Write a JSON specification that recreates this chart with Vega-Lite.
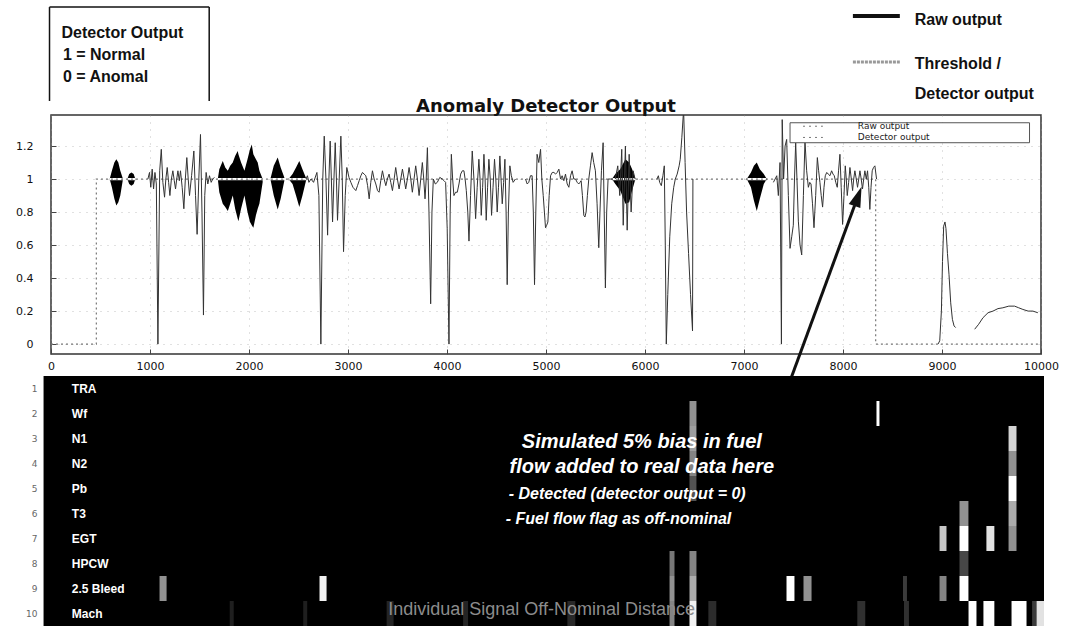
{
  "$schema": "https://vega.github.io/schema/vega-lite/v6.json",
  "background": "white",
  "padding": {"left": 14, "top": 5, "right": 2, "bottom": 0},
  "config": {"view": {"stroke": null}, "font": "DejaVu Sans"},
  "bounds": "flush",
  "spacing": 22,
  "datasets": {
    "raw": [
      {"seg":1,"t":979,"v":1.0},{"seg":1,"t":995,"v":1.04},{"seg":1,"t":1008,"v":0.95},{"seg":1,"t":1022,"v":1.06},{"seg":1,"t":1036,"v":0.94},{"seg":1,"t":1050,"v":1.04},{"seg":1,"t":1064,"v":0.97},{"seg":1,"t":1080,"v":0.0},{"seg":1,"t":1098,"v":1.05},{"seg":1,"t":1114,"v":1.18},{"seg":1,"t":1130,"v":0.98},{"seg":1,"t":1147,"v":0.89},{"seg":1,"t":1160,"v":1.0},{"seg":1,"t":1174,"v":1.07},{"seg":1,"t":1188,"v":0.98},{"seg":1,"t":1201,"v":0.9},{"seg":1,"t":1216,"v":1.0},{"seg":1,"t":1231,"v":1.05},{"seg":1,"t":1245,"v":0.99},{"seg":1,"t":1258,"v":0.94},{"seg":1,"t":1270,"v":1.0},{"seg":1,"t":1282,"v":1.05},{"seg":1,"t":1296,"v":0.99},{"seg":1,"t":1308,"v":1.05},{"seg":1,"t":1325,"v":0.95},{"seg":1,"t":1342,"v":0.82},{"seg":1,"t":1357,"v":1.0},{"seg":1,"t":1372,"v":1.13},{"seg":1,"t":1386,"v":1.0},{"seg":1,"t":1399,"v":0.9},{"seg":1,"t":1420,"v":1.02},{"seg":1,"t":1443,"v":1.17},{"seg":1,"t":1460,"v":0.9},{"seg":1,"t":1476,"v":0.665},{"seg":1,"t":1493,"v":1.0},{"seg":1,"t":1510,"v":1.27},{"seg":1,"t":1525,"v":0.8},{"seg":1,"t":1540,"v":0.176},{"seg":1,"t":1553,"v":0.9},{"seg":1,"t":1567,"v":1.04},{"seg":1,"t":1584,"v":0.97},{"seg":1,"t":1601,"v":1.02},{"seg":1,"t":1618,"v":0.98},{"seg":1,"t":1634,"v":1.0},{"seg":1,"t":1650,"v":1.01},
      {"seg":2,"t":2575,"v":1.0},{"seg":2,"t":2590,"v":1.02},{"seg":2,"t":2605,"v":0.98},{"seg":2,"t":2626,"v":1.0},{"seg":2,"t":2652,"v":0.98},{"seg":2,"t":2686,"v":1.04},{"seg":2,"t":2706,"v":0.9},{"seg":2,"t":2726,"v":0.0},{"seg":2,"t":2745,"v":1.0},{"seg":2,"t":2760,"v":1.26},{"seg":2,"t":2777,"v":1.0},{"seg":2,"t":2794,"v":0.66},{"seg":2,"t":2807,"v":1.0},{"seg":2,"t":2820,"v":1.23},{"seg":2,"t":2832,"v":1.0},{"seg":2,"t":2844,"v":0.74},{"seg":2,"t":2858,"v":1.0},{"seg":2,"t":2871,"v":1.22},{"seg":2,"t":2883,"v":1.0},{"seg":2,"t":2894,"v":0.75},{"seg":2,"t":2911,"v":1.0},{"seg":2,"t":2928,"v":1.26},{"seg":2,"t":2942,"v":1.0},{"seg":2,"t":2955,"v":0.56},{"seg":2,"t":2972,"v":0.9},{"seg":2,"t":2988,"v":1.07},{"seg":2,"t":3010,"v":1.01},{"seg":2,"t":3029,"v":0.98},{"seg":2,"t":3050,"v":0.95},{"seg":2,"t":3079,"v":0.93},{"seg":2,"t":3096,"v":0.96},{"seg":2,"t":3113,"v":0.99},{"seg":2,"t":3130,"v":1.02},{"seg":2,"t":3146,"v":1.04},{"seg":2,"t":3163,"v":1.03},{"seg":2,"t":3180,"v":1.02},{"seg":2,"t":3198,"v":0.96},{"seg":2,"t":3214,"v":0.88},{"seg":2,"t":3230,"v":0.98},{"seg":2,"t":3247,"v":1.05},{"seg":2,"t":3264,"v":1.0},{"seg":2,"t":3281,"v":0.97},{"seg":2,"t":3298,"v":0.93},{"seg":2,"t":3314,"v":0.92},{"seg":2,"t":3331,"v":0.99},{"seg":2,"t":3348,"v":1.05},{"seg":2,"t":3365,"v":1.0},{"seg":2,"t":3382,"v":0.96},{"seg":2,"t":3398,"v":1.0},{"seg":2,"t":3415,"v":1.03},{"seg":2,"t":3432,"v":0.98},{"seg":2,"t":3449,"v":0.93},{"seg":2,"t":3466,"v":1.0},{"seg":2,"t":3482,"v":1.07},{"seg":2,"t":3499,"v":1.0},{"seg":2,"t":3516,"v":0.94},{"seg":2,"t":3533,"v":1.0},{"seg":2,"t":3550,"v":1.06},{"seg":2,"t":3567,"v":1.0},{"seg":2,"t":3583,"v":0.94},{"seg":2,"t":3600,"v":1.0},{"seg":2,"t":3617,"v":1.07},{"seg":2,"t":3634,"v":1.0},{"seg":2,"t":3650,"v":0.92},{"seg":2,"t":3667,"v":1.0},{"seg":2,"t":3684,"v":1.08},{"seg":2,"t":3701,"v":1.0},{"seg":2,"t":3718,"v":0.9},{"seg":2,"t":3735,"v":1.0},{"seg":2,"t":3751,"v":1.1},{"seg":2,"t":3765,"v":1.0},{"seg":2,"t":3778,"v":0.88},{"seg":2,"t":3790,"v":1.0},{"seg":2,"t":3802,"v":1.19},{"seg":2,"t":3818,"v":0.8},{"seg":2,"t":3835,"v":0.244},{"seg":2,"t":3848,"v":0.8},{"seg":2,"t":3862,"v":1.0},{"seg":2,"t":3882,"v":0.97},{"seg":2,"t":3902,"v":0.98},{"seg":2,"t":3927,"v":1.01},{"seg":2,"t":3953,"v":1.0},{"seg":2,"t":3970,"v":0.99},{"seg":2,"t":3986,"v":0.98},{"seg":2,"t":4002,"v":0.7},{"seg":2,"t":4020,"v":0.0},{"seg":2,"t":4032,"v":0.8},{"seg":2,"t":4044,"v":1.15},{"seg":2,"t":4057,"v":1.0},{"seg":2,"t":4070,"v":0.9},{"seg":2,"t":4087,"v":0.92},{"seg":2,"t":4104,"v":0.92},{"seg":2,"t":4121,"v":0.97},{"seg":2,"t":4138,"v":1.03},{"seg":2,"t":4155,"v":1.05},{"seg":2,"t":4171,"v":1.05},{"seg":2,"t":4183,"v":1.0},{"seg":2,"t":4195,"v":0.93},{"seg":2,"t":4210,"v":0.8},{"seg":2,"t":4222,"v":0.624},{"seg":2,"t":4238,"v":0.9},{"seg":2,"t":4255,"v":1.17},{"seg":2,"t":4272,"v":1.0},{"seg":2,"t":4289,"v":0.76},{"seg":2,"t":4305,"v":0.95},{"seg":2,"t":4322,"v":1.12},{"seg":2,"t":4334,"v":1.0},{"seg":2,"t":4346,"v":0.78},{"seg":2,"t":4360,"v":0.95},{"seg":2,"t":4373,"v":1.15},{"seg":2,"t":4385,"v":1.0},{"seg":2,"t":4396,"v":0.75},{"seg":2,"t":4410,"v":0.95},{"seg":2,"t":4423,"v":1.12},{"seg":2,"t":4437,"v":1.0},{"seg":2,"t":4450,"v":0.78},{"seg":2,"t":4465,"v":0.95},{"seg":2,"t":4480,"v":1.12},{"seg":2,"t":4493,"v":1.0},{"seg":2,"t":4507,"v":0.8},{"seg":2,"t":4520,"v":0.95},{"seg":2,"t":4534,"v":1.14},{"seg":2,"t":4546,"v":1.0},{"seg":2,"t":4558,"v":0.85},{"seg":2,"t":4572,"v":0.98},{"seg":2,"t":4585,"v":1.12},{"seg":2,"t":4597,"v":0.8},{"seg":2,"t":4608,"v":0.36},{"seg":2,"t":4620,"v":0.8},{"seg":2,"t":4635,"v":1.08},{"seg":2,"t":4650,"v":1.02},{"seg":2,"t":4668,"v":0.98},{"seg":2,"t":4692,"v":1.0},
      {"seg":3,"t":4793,"v":1.0},{"seg":3,"t":4810,"v":0.97},{"seg":3,"t":4826,"v":0.98},{"seg":3,"t":4843,"v":1.02},{"seg":3,"t":4860,"v":1.02},{"seg":3,"t":4872,"v":0.8},{"seg":3,"t":4884,"v":0.36},{"seg":3,"t":4897,"v":0.8},{"seg":3,"t":4910,"v":1.15},{"seg":3,"t":4927,"v":1.1},{"seg":3,"t":4945,"v":1.18},{"seg":3,"t":4958,"v":1.0},{"seg":3,"t":4972,"v":0.9},{"seg":3,"t":4984,"v":0.8},{"seg":3,"t":4995,"v":0.705},{"seg":3,"t":5007,"v":0.72},{"seg":3,"t":5019,"v":0.74},{"seg":3,"t":5032,"v":0.9},{"seg":3,"t":5046,"v":1.02},{"seg":3,"t":5063,"v":1.04},{"seg":3,"t":5080,"v":1.04},{"seg":3,"t":5097,"v":1.03},{"seg":3,"t":5113,"v":1.04},{"seg":3,"t":5130,"v":1.06},{"seg":3,"t":5147,"v":1.0},{"seg":3,"t":5163,"v":1.02},{"seg":3,"t":5180,"v":0.99},{"seg":3,"t":5197,"v":1.03},{"seg":3,"t":5214,"v":0.97},{"seg":3,"t":5231,"v":0.95},{"seg":3,"t":5248,"v":1.02},{"seg":3,"t":5264,"v":1.05},{"seg":3,"t":5281,"v":1.0},{"seg":3,"t":5298,"v":1.0},{"seg":3,"t":5315,"v":0.98},{"seg":3,"t":5331,"v":0.97},{"seg":3,"t":5343,"v":0.98},{"seg":3,"t":5355,"v":0.99},{"seg":3,"t":5368,"v":0.9},{"seg":3,"t":5382,"v":0.78},{"seg":3,"t":5393,"v":0.77},{"seg":3,"t":5405,"v":0.8},{"seg":3,"t":5418,"v":0.9},{"seg":3,"t":5432,"v":1.0},{"seg":3,"t":5449,"v":1.08},{"seg":3,"t":5466,"v":1.16},{"seg":3,"t":5482,"v":1.1},{"seg":3,"t":5499,"v":1.05},{"seg":3,"t":5516,"v":0.85},{"seg":3,"t":5533,"v":0.584},{"seg":3,"t":5545,"v":0.8},{"seg":3,"t":5560,"v":1.05},{"seg":3,"t":5577,"v":1.22},{"seg":3,"t":5588,"v":0.8},{"seg":3,"t":5600,"v":0.34},{"seg":3,"t":5613,"v":0.8},{"seg":3,"t":5627,"v":1.0},{"seg":3,"t":5651,"v":1.0},{"seg":3,"t":5670,"v":1.0},
      {"seg":4,"t":5700,"v":1.0},{"seg":4,"t":5725,"v":1.08},{"seg":4,"t":5745,"v":0.9},{"seg":4,"t":5765,"v":1.18},{"seg":4,"t":5780,"v":0.72},{"seg":4,"t":5802,"v":1.2},{"seg":4,"t":5820,"v":0.69},{"seg":4,"t":5840,"v":1.15},{"seg":4,"t":5860,"v":0.8},{"seg":4,"t":5880,"v":1.05},{"seg":4,"t":5900,"v":1.0},
      {"seg":5,"t":6121,"v":1.0},{"seg":5,"t":6135,"v":1.02},{"seg":5,"t":6148,"v":0.98},{"seg":5,"t":6165,"v":0.96},{"seg":5,"t":6181,"v":1.02},{"seg":5,"t":6195,"v":1.08},{"seg":5,"t":6205,"v":0.6},{"seg":5,"t":6215,"v":0.0},{"seg":5,"t":6230,"v":0.3},{"seg":5,"t":6250,"v":0.65},{"seg":5,"t":6270,"v":0.85},{"seg":5,"t":6290,"v":0.95},{"seg":5,"t":6306,"v":1.0},{"seg":5,"t":6325,"v":1.03},{"seg":5,"t":6345,"v":1.08},{"seg":5,"t":6356,"v":1.12},{"seg":5,"t":6372,"v":1.25},{"seg":5,"t":6390,"v":1.42},{"seg":5,"t":6405,"v":1.1},{"seg":5,"t":6420,"v":0.8},{"seg":5,"t":6440,"v":0.55},{"seg":5,"t":6460,"v":0.3},{"seg":5,"t":6480,"v":0.08},{"seg":5,"t":6484,"v":1.0},
      {"seg":6,"t":7297,"v":0.98},{"seg":6,"t":7314,"v":1.0},{"seg":6,"t":7331,"v":1.02},{"seg":6,"t":7347,"v":0.9},{"seg":6,"t":7364,"v":1.1},{"seg":6,"t":7378,"v":0.0},{"seg":6,"t":7386,"v":1.36},{"seg":6,"t":7400,"v":1.0},{"seg":6,"t":7415,"v":1.2},{"seg":6,"t":7431,"v":1.24},{"seg":6,"t":7448,"v":0.9},{"seg":6,"t":7465,"v":0.58},{"seg":6,"t":7482,"v":0.65},{"seg":6,"t":7498,"v":0.72},{"seg":6,"t":7510,"v":1.0},{"seg":6,"t":7522,"v":1.22},{"seg":6,"t":7535,"v":1.0},{"seg":6,"t":7549,"v":0.745},{"seg":6,"t":7566,"v":0.6},{"seg":6,"t":7583,"v":0.54},{"seg":6,"t":7600,"v":0.9},{"seg":6,"t":7616,"v":1.23},{"seg":6,"t":7633,"v":1.05},{"seg":6,"t":7650,"v":0.95},{"seg":6,"t":7664,"v":0.98},{"seg":6,"t":7677,"v":0.97},{"seg":6,"t":7692,"v":0.85},{"seg":6,"t":7707,"v":0.705},{"seg":6,"t":7724,"v":0.9},{"seg":6,"t":7741,"v":1.13},{"seg":6,"t":7754,"v":1.05},{"seg":6,"t":7767,"v":0.98},{"seg":6,"t":7780,"v":0.9},{"seg":6,"t":7794,"v":0.83},{"seg":6,"t":7808,"v":0.95},{"seg":6,"t":7821,"v":1.02},{"seg":6,"t":7836,"v":1.04},{"seg":6,"t":7851,"v":1.03},{"seg":6,"t":7868,"v":1.02},{"seg":6,"t":7885,"v":1.05},{"seg":6,"t":7899,"v":1.03},{"seg":6,"t":7912,"v":1.02},{"seg":6,"t":7927,"v":0.98},{"seg":6,"t":7942,"v":0.95},{"seg":6,"t":7955,"v":1.05},{"seg":6,"t":7969,"v":1.15},{"seg":6,"t":7982,"v":0.95},{"seg":6,"t":7996,"v":0.725},{"seg":6,"t":8010,"v":0.9},{"seg":6,"t":8023,"v":1.08},{"seg":6,"t":8033,"v":1.0},{"seg":6,"t":8043,"v":0.9},{"seg":6,"t":8057,"v":0.98},{"seg":6,"t":8070,"v":1.07},{"seg":6,"t":8084,"v":1.0},{"seg":6,"t":8097,"v":0.93},{"seg":6,"t":8108,"v":1.0},{"seg":6,"t":8120,"v":1.05},{"seg":6,"t":8134,"v":1.0},{"seg":6,"t":8147,"v":0.95},{"seg":6,"t":8159,"v":1.0},{"seg":6,"t":8171,"v":1.05},{"seg":6,"t":8184,"v":1.0},{"seg":6,"t":8197,"v":0.94},{"seg":6,"t":8209,"v":1.0},{"seg":6,"t":8221,"v":1.05},{"seg":6,"t":8235,"v":1.0},{"seg":6,"t":8248,"v":1.05},{"seg":6,"t":8260,"v":0.95},{"seg":6,"t":8271,"v":0.816},{"seg":6,"t":8283,"v":0.95},{"seg":6,"t":8295,"v":1.05},{"seg":6,"t":8308,"v":1.07},{"seg":6,"t":8322,"v":1.08},{"seg":6,"t":8339,"v":1.0},
      {"seg":7,"t":8960,"v":0.0},{"seg":7,"t":8977,"v":0.02},{"seg":7,"t":8994,"v":0.2},{"seg":7,"t":9005,"v":0.5},{"seg":7,"t":9017,"v":0.715},{"seg":7,"t":9030,"v":0.74},{"seg":7,"t":9040,"v":0.7},{"seg":7,"t":9055,"v":0.55},{"seg":7,"t":9071,"v":0.42},{"seg":7,"t":9088,"v":0.25},{"seg":7,"t":9105,"v":0.15},{"seg":7,"t":9122,"v":0.11},{"seg":7,"t":9138,"v":0.1},
      {"seg":8,"t":9330,"v":0.09},{"seg":8,"t":9370,"v":0.12},{"seg":8,"t":9414,"v":0.16},{"seg":8,"t":9465,"v":0.19},{"seg":8,"t":9515,"v":0.2},{"seg":8,"t":9565,"v":0.215},{"seg":8,"t":9615,"v":0.22},{"seg":8,"t":9675,"v":0.23},{"seg":8,"t":9733,"v":0.23},{"seg":8,"t":9775,"v":0.22},{"seg":8,"t":9817,"v":0.21},{"seg":8,"t":9870,"v":0.2},{"seg":8,"t":9918,"v":0.2},{"seg":8,"t":9968,"v":0.19}
    ],
    "burstHi": [
      {"b":1,"t":593,"v":1.0},{"b":1,"t":615,"v":1.05},{"b":1,"t":640,"v":1.1},{"b":1,"t":660,"v":1.12},{"b":1,"t":680,"v":1.1},{"b":1,"t":700,"v":1.05},{"b":1,"t":727,"v":1.0},
      {"b":2,"t":771,"v":1.0},{"b":2,"t":790,"v":1.03},{"b":2,"t":812,"v":1.04},{"b":2,"t":835,"v":1.03},{"b":2,"t":852,"v":1.0},
      {"b":3,"t":1685,"v":1.0},{"b":3,"t":1700,"v":1.06},{"b":3,"t":1735,"v":1.11},{"b":3,"t":1760,"v":1.07},{"b":3,"t":1786,"v":1.05},{"b":3,"t":1810,"v":1.08},{"b":3,"t":1836,"v":1.1},{"b":3,"t":1860,"v":1.14},{"b":3,"t":1886,"v":1.17},{"b":3,"t":1893,"v":1.15},{"b":3,"t":1920,"v":1.1},{"b":3,"t":1954,"v":1.05},{"b":3,"t":1985,"v":1.12},{"b":3,"t":2010,"v":1.18},{"b":3,"t":2028,"v":1.21},{"b":3,"t":2044,"v":1.15},{"b":3,"t":2070,"v":1.12},{"b":3,"t":2088,"v":1.1},{"b":3,"t":2105,"v":1.05},{"b":3,"t":2138,"v":1.0},
      {"b":4,"t":2216,"v":1.0},{"b":4,"t":2250,"v":1.08},{"b":4,"t":2290,"v":1.13},{"b":4,"t":2320,"v":1.07},{"b":4,"t":2357,"v":1.01},
      {"b":5,"t":2400,"v":1.0},{"b":5,"t":2440,"v":1.03},{"b":5,"t":2475,"v":1.07},{"b":5,"t":2508,"v":1.11},{"b":5,"t":2540,"v":1.06},{"b":5,"t":2580,"v":1.0},
      {"b":6,"t":5667,"v":1.0},{"b":6,"t":5700,"v":1.03},{"b":6,"t":5750,"v":1.06},{"b":6,"t":5802,"v":1.12},{"b":6,"t":5840,"v":1.1},{"b":6,"t":5870,"v":1.06},{"b":6,"t":5903,"v":1.0},
      {"b":7,"t":7028,"v":1.0},{"b":7,"t":7070,"v":1.04},{"b":7,"t":7100,"v":1.08},{"b":7,"t":7129,"v":1.1},{"b":7,"t":7160,"v":1.06},{"b":7,"t":7200,"v":1.03},{"b":7,"t":7230,"v":1.0}
    ],
    "burstLo": [
      {"b":1,"t":593,"v":1.0},{"b":1,"t":615,"v":0.95},{"b":1,"t":640,"v":0.88},{"b":1,"t":660,"v":0.84},{"b":1,"t":680,"v":0.86},{"b":1,"t":700,"v":0.9},{"b":1,"t":727,"v":1.0},
      {"b":2,"t":771,"v":1.0},{"b":2,"t":790,"v":0.97},{"b":2,"t":812,"v":0.96},{"b":2,"t":835,"v":0.97},{"b":2,"t":852,"v":1.0},
      {"b":3,"t":1685,"v":1.0},{"b":3,"t":1700,"v":0.92},{"b":3,"t":1735,"v":0.85},{"b":3,"t":1760,"v":0.83},{"b":3,"t":1786,"v":0.806},{"b":3,"t":1810,"v":0.85},{"b":3,"t":1836,"v":0.9},{"b":3,"t":1860,"v":0.82},{"b":3,"t":1886,"v":0.76},{"b":3,"t":1893,"v":0.745},{"b":3,"t":1920,"v":0.82},{"b":3,"t":1954,"v":0.9},{"b":3,"t":1985,"v":0.8},{"b":3,"t":2010,"v":0.74},{"b":3,"t":2028,"v":0.72},{"b":3,"t":2044,"v":0.705},{"b":3,"t":2070,"v":0.78},{"b":3,"t":2088,"v":0.82},{"b":3,"t":2105,"v":0.85},{"b":3,"t":2138,"v":0.98},
      {"b":4,"t":2216,"v":1.0},{"b":4,"t":2250,"v":0.9},{"b":4,"t":2290,"v":0.816},{"b":4,"t":2320,"v":0.88},{"b":4,"t":2357,"v":0.99},
      {"b":5,"t":2400,"v":1.0},{"b":5,"t":2440,"v":0.97},{"b":5,"t":2475,"v":0.9},{"b":5,"t":2508,"v":0.83},{"b":5,"t":2540,"v":0.9},{"b":5,"t":2580,"v":1.0},
      {"b":6,"t":5667,"v":1.0},{"b":6,"t":5700,"v":0.97},{"b":6,"t":5750,"v":0.93},{"b":6,"t":5802,"v":0.85},{"b":6,"t":5840,"v":0.86},{"b":6,"t":5870,"v":0.93},{"b":6,"t":5903,"v":1.0},
      {"b":7,"t":7028,"v":1.0},{"b":7,"t":7070,"v":0.95},{"b":7,"t":7100,"v":0.87},{"b":7,"t":7129,"v":0.806},{"b":7,"t":7160,"v":0.88},{"b":7,"t":7200,"v":0.97},{"b":7,"t":7230,"v":1.0}
    ],
    "det": [
      {"i":1,"t":0,"v":0},{"i":2,"t":458,"v":0},{"i":3,"t":458,"v":1},{"i":4,"t":8330,"v":1},{"i":5,"t":8330,"v":0},{"i":6,"t":10000,"v":0}
    ],
    "titleText": [{"t":5000,"v":1.436,"label":"Anomaly Detector Output"}],
    "legendBox": [{"t":7465,"t2":9884,"v":1.341,"v2":1.22}],
    "legendSamples": [{"t":7596,"t2":7797,"v":1.32,"v2":1.32},{"t":7596,"t2":7797,"v":1.252,"v2":1.252}],
    "legendTexts": [{"t":8150,"v":1.32,"label":"Raw output"},{"t":8150,"v":1.252,"label":"Detector output"}],
    "boxRules": [{"t":-15,"v":2.042,"t2":-15,"v2":1.473},{"t":-15,"v":2.042,"t2":1598,"v2":2.042},{"t":1598,"v":2.042,"t2":1598,"v2":1.473}],
    "noteTexts": [
      {"t":106,"v":1.885,"label":"Detector Output"},
      {"t":120,"v":1.752,"label":"1 = Normal"},
      {"t":120,"v":1.618,"label":"0 = Anomal"},
      {"t":8725,"v":1.964,"label":"Raw output"},
      {"t":8725,"v":1.697,"label":"Threshold /"},
      {"t":8725,"v":1.515,"label":"Detector output"}
    ],
    "keyRaw": [{"t":8100,"t2":8574,"v":1.988,"v2":1.988}],
    "keyThr": [{"t":8100,"t2":8574,"v":1.709,"v2":1.709}],
    "arrow": [{"t":7465,"v":-0.224,"t2":8117,"v2":0.84}],
    "arrowHead": [{"t":8152,"v":0.895}],
    "hbg": [
      {"t0":-7.5,"t1":1000,"r":1},{"t0":-7.5,"t1":1000,"r":2},{"t0":-7.5,"t1":1000,"r":3},{"t0":-7.5,"t1":1000,"r":4},{"t0":-7.5,"t1":1000,"r":5},
      {"t0":-7.5,"t1":1000,"r":6},{"t0":-7.5,"t1":1000,"r":7},{"t0":-7.5,"t1":1000,"r":8},{"t0":-7.5,"t1":1000,"r":9},{"t0":-7.5,"t1":1000,"r":10}
    ],
    "cells": [
      {"t0":109.3,"t1":116.4,"r":9,"val":0.6},
      {"t0":270.4,"t1":277.5,"r":9,"val":0.95},
      {"t0":622.9,"t1":627.9,"r":8,"val":0.5},{"t0":622.9,"t1":627.9,"r":9,"val":0.6},{"t0":622.9,"t1":627.9,"r":10,"val":0.55},
      {"t0":643,"t1":650,"r":2,"val":0.6},{"t0":643,"t1":650,"r":3,"val":0.65},{"t0":643,"t1":650,"r":4,"val":0.55},{"t0":643,"t1":650,"r":5,"val":0.35},{"t0":643,"t1":650,"r":8,"val":0.55},{"t0":643,"t1":650,"r":9,"val":0.7},{"t0":643,"t1":650,"r":10,"val":0.95},
      {"t0":831.3,"t1":834.3,"r":2,"val":1.0},
      {"t0":740.7,"t1":748.7,"r":9,"val":1.0},
      {"t0":757.8,"t1":765.9,"r":9,"val":0.6},
      {"t0":894.8,"t1":901.8,"r":7,"val":0.8},{"t0":894.8,"t1":901.8,"r":9,"val":0.55},
      {"t0":914.9,"t1":923.9,"r":6,"val":0.6},{"t0":914.9,"t1":923.9,"r":7,"val":1.0},{"t0":914.9,"t1":923.9,"r":8,"val":0.3},{"t0":914.9,"t1":923.9,"r":9,"val":1.0},
      {"t0":942,"t1":950,"r":7,"val":0.9},
      {"t0":964.3,"t1":972.3,"r":3,"val":0.85},{"t0":964.3,"t1":972.3,"r":4,"val":0.6},{"t0":964.3,"t1":972.3,"r":5,"val":1.0},{"t0":964.3,"t1":972.3,"r":6,"val":0.7},{"t0":964.3,"t1":972.3,"r":7,"val":0.6},
      {"t0":924,"t1":932,"r":10,"val":1.0},{"t0":939,"t1":950,"r":10,"val":1.0},{"t0":967.3,"t1":982.4,"r":10,"val":1.0},{"t0":992.4,"t1":1000,"r":10,"val":0.9},
      {"t0":180,"t1":184,"r":10,"val":0.12},{"t0":254,"t1":258,"r":10,"val":0.12},{"t0":338,"t1":345,"r":10,"val":0.14},{"t0":415,"t1":420,"r":10,"val":0.14},{"t0":520,"t1":528,"r":10,"val":0.16},{"t0":662,"t1":670,"r":10,"val":0.18},{"t0":812,"t1":820,"r":10,"val":0.2},{"t0":859,"t1":864,"r":10,"val":0.2},{"t0":858,"t1":862,"r":9,"val":0.25},{"t0":988,"t1":992,"r":10,"val":0.25}
    ],
    "rowLabels": [
      {"t0":21,"r":1,"label":"TRA"},{"t0":21,"r":2,"label":"Wf"},{"t0":21,"r":3,"label":"N1"},{"t0":21,"r":4,"label":"N2"},{"t0":21,"r":5,"label":"Pb"},
      {"t0":21,"r":6,"label":"T3"},{"t0":21,"r":7,"label":"EGT"},{"t0":21,"r":8,"label":"HPCW"},{"t0":21,"r":9,"label":"2.5 Bleed"},{"t0":21,"r":10,"label":"Mach"}
    ],
    "bigNotes": [
      {"t0":595,"r":3,"label":"Simulated 5% bias in fuel"},
      {"t0":595,"r":4,"label":"flow added to real data here"}
    ],
    "midNotes": [
      {"t0":461,"r":5,"label":"- Detected (detector output = 0)"},
      {"t0":458,"r":6,"label":"- Fuel flow flag as off-nominal"}
    ],
    "greyNotes": [
      {"t0":494,"r":10,"label":"Individual Signal Off-Nominal Distance"}
    ]
  },
  "vconcat": [
    {
      "width": 990,
      "height": 239,
      "view": {"stroke": "#333", "strokeWidth": 1.5, "fill": "white"},
      "encoding": {
        "x": {"field": "t", "type": "quantitative", "title": null,
          "scale": {"domain": [0, 10000], "nice": false, "zero": false},
          "axis": {"title": null, "values": [0,1000,2000,3000,4000,5000,6000,7000,8000,9000,10000], "format": "d", "labelFlush": false, "tickSize": -5, "labelPadding": 11, "labelFontSize": 11, "labelColor": "#111", "tickColor": "#444", "domain": false, "grid": true, "gridDash": [1,6], "gridColor": "#999", "gridOpacity": 0.6}},
        "y": {"field": "v", "type": "quantitative", "title": null,
          "scale": {"domain": [-0.06, 1.388], "nice": false, "zero": false},
          "axis": {"title": null, "values": [0,0.2,0.4,0.6,0.8,1,1.2], "format": "~g", "tickSize": -5, "labelPadding": 23, "labelFontSize": 11, "labelColor": "#111", "tickColor": "#444", "domain": false, "grid": true, "gridDash": [1,6], "gridColor": "#999", "gridOpacity": 0.6}}
      },
      "layer": [
        {"data": {"name": "det"}, "mark": {"type": "line", "color": "#777", "strokeWidth": 1.2, "strokeDash": [2,3]},
          "encoding": {"order": {"field": "i"}}},
        {"data": {"name": "burstHi"}, "mark": {"type": "area", "color": "black", "opacity": 1},
          "encoding": {"detail": {"field": "b"}, "y2": {"datum": 1.007}}},
        {"data": {"name": "burstLo"}, "mark": {"type": "area", "color": "black", "opacity": 1},
          "encoding": {"detail": {"field": "b"}, "y2": {"datum": 0.993}}},
        {"data": {"name": "raw"}, "mark": {"type": "line", "color": "#333", "strokeWidth": 1, "clip": true},
          "encoding": {"detail": {"field": "seg"}}},
        {"data": {"name": "titleText"}, "mark": {"type": "text", "align": "center", "baseline": "middle", "fontSize": 18, "fontWeight": "bold", "font": "DejaVu Sans", "color": "#111"},
          "encoding": {"text": {"field": "label"}}},
        {"data": {"name": "legendBox"}, "mark": {"type": "rect", "fill": "white", "stroke": "#555", "strokeWidth": 1},
          "encoding": {"x2": {"field": "t2", "title": null}, "y2": {"field": "v2", "title": null}}},
        {"data": {"name": "legendSamples"}, "mark": {"type": "rule", "color": "#777", "strokeWidth": 1, "strokeDash": [2,4]},
          "encoding": {"x2": {"field": "t2", "title": null}, "y2": {"field": "v2", "title": null}}},
        {"data": {"name": "legendTexts"}, "mark": {"type": "text", "align": "left", "baseline": "middle", "fontSize": 9, "font": "DejaVu Sans", "color": "#222"},
          "encoding": {"text": {"field": "label"}}},
        {"data": {"name": "boxRules"}, "mark": {"type": "rule", "color": "#111", "strokeWidth": 1.5},
          "encoding": {"x2": {"field": "t2", "title": null}, "y2": {"field": "v2", "title": null}}},
        {"data": {"name": "keyRaw"}, "mark": {"type": "rule", "color": "#111", "strokeWidth": 4},
          "encoding": {"x2": {"field": "t2", "title": null}, "y2": {"field": "v2", "title": null}}},
        {"data": {"name": "keyThr"}, "mark": {"type": "rule", "color": "#999", "strokeWidth": 3, "strokeDash": [3,1]},
          "encoding": {"x2": {"field": "t2", "title": null}, "y2": {"field": "v2", "title": null}}},
        {"data": {"name": "noteTexts"}, "mark": {"type": "text", "align": "left", "baseline": "middle", "fontSize": 16, "fontWeight": "bold", "font": "Liberation Sans", "color": "#111"},
          "encoding": {"text": {"field": "label"}}},
        {"data": {"name": "arrow"}, "mark": {"type": "rule", "color": "#111", "strokeWidth": 3},
          "encoding": {"x2": {"field": "t2", "title": null}, "y2": {"field": "v2", "title": null}}},
        {"data": {"name": "arrowHead"}, "mark": {"type": "point", "shape": "M0,-1L0.6,1L-0.6,1Z", "size": 420, "angle": 20, "filled": true, "color": "#111", "opacity": 1}}
      ]
    },
    {
      "width": 993,
      "height": 250,
      "encoding": {
        "x": {"field": "t0", "type": "quantitative", "title": null, "scale": {"domain": [0, 1000], "nice": false, "zero": false}, "axis": null},
        "y": {"field": "r", "type": "ordinal", "title": null, "scale": {"domain": [1,2,3,4,5,6,7,8,9,10], "paddingInner": 0, "paddingOuter": 0},
          "axis": {"title": null, "ticks": false, "domain": false, "labelPadding": 14, "labelFontSize": 9, "labelColor": "#666", "labelAngle": 0}}
      },
      "layer": [
        {"data": {"name": "hbg"}, "mark": {"type": "rect", "color": "black"},
          "encoding": {"x2": {"field": "t1", "title": null}}},
        {"data": {"name": "cells"}, "mark": {"type": "rect"},
          "encoding": {"x2": {"field": "t1", "title": null},
            "color": {"field": "val", "type": "quantitative", "scale": {"domain": [0, 1], "range": ["#000000", "#ffffff"]}, "legend": null}}},
        {"data": {"name": "rowLabels"}, "mark": {"type": "text", "align": "left", "baseline": "middle", "fontSize": 12, "fontWeight": "bold", "font": "Liberation Sans", "color": "white"},
          "encoding": {"text": {"field": "label"}}},
        {"data": {"name": "bigNotes"}, "mark": {"type": "text", "align": "center", "baseline": "middle", "dy": 3, "fontSize": 20, "fontWeight": "bold", "fontStyle": "italic", "font": "Liberation Sans", "color": "white"},
          "encoding": {"text": {"field": "label"}}},
        {"data": {"name": "midNotes"}, "mark": {"type": "text", "align": "left", "baseline": "middle", "dy": 5, "fontSize": 16, "fontStyle": "italic", "fontWeight": "bold", "font": "Liberation Sans", "color": "white"},
          "encoding": {"text": {"field": "label"}}},
        {"data": {"name": "greyNotes"}, "mark": {"type": "text", "align": "center", "baseline": "middle", "dy": -4, "fontSize": 18, "font": "Liberation Sans", "color": "#8c8c8c"},
          "encoding": {"text": {"field": "label"}}}
      ]
    }
  ]
}
